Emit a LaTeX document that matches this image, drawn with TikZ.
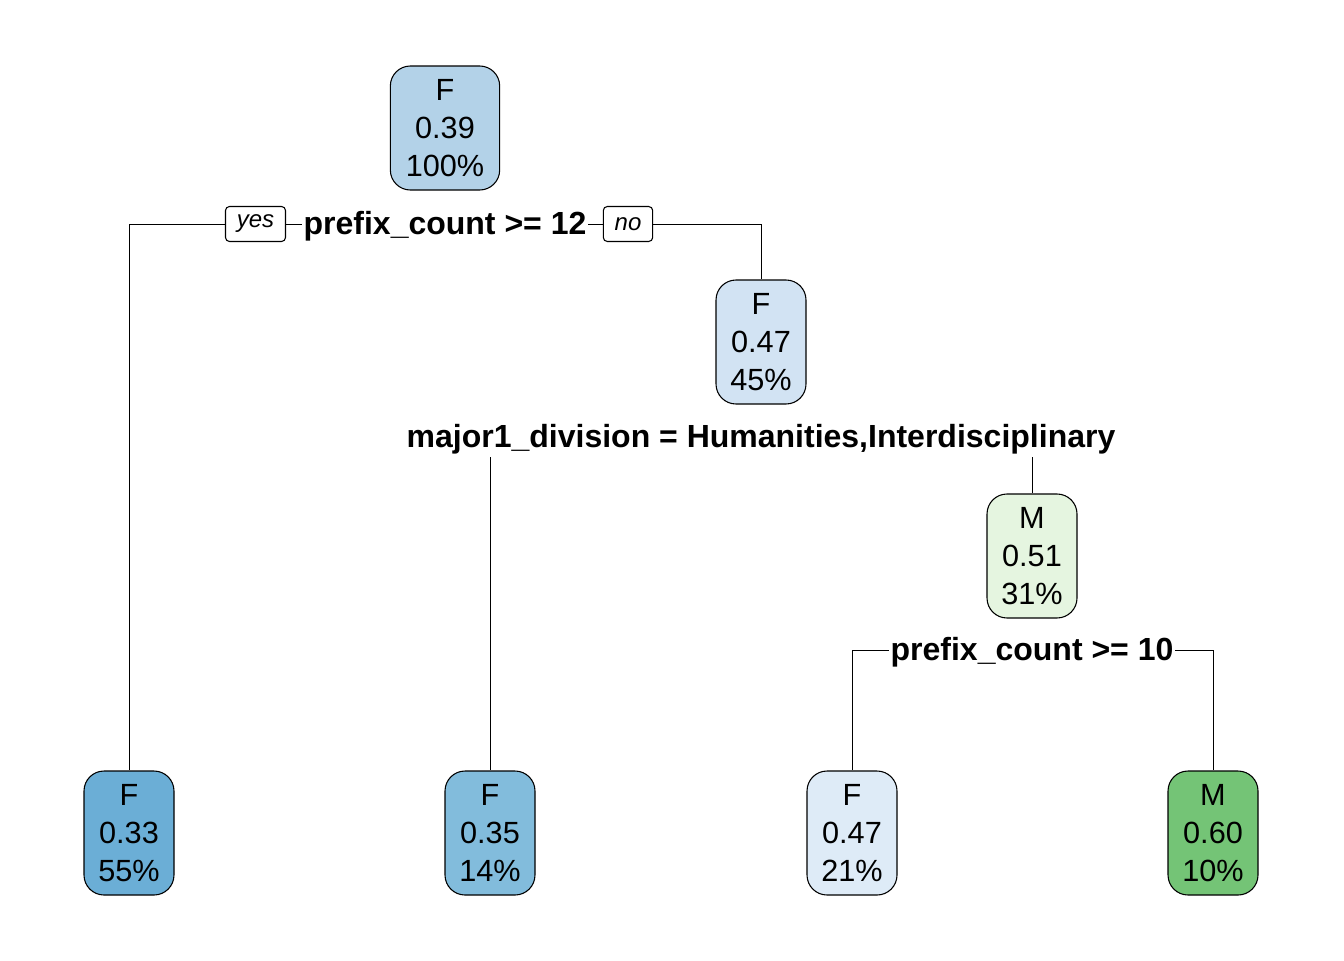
\documentclass[tikz,border=0pt]{standalone}
\usepackage{fontspec}
\setmainfont{Liberation Sans}
\definecolor{cRoot}{RGB}{179,210,232}
\definecolor{cLeafA}{RGB}{107,174,214}
\definecolor{cLeafB}{RGB}{130,188,220}
\definecolor{cNodeB}{RGB}{210,227,243}
\definecolor{cLeafC}{RGB}{222,235,247}
\definecolor{cNodeC}{RGB}{229,245,224}
\definecolor{cLeafD}{RGB}{116,196,118}
\tikzset{
  treenode/.style={draw, line width=0.8pt, rounded corners=15pt, align=center,
    minimum width=67.5pt, minimum height=93pt, inner sep=0pt,
    font=\fontsize{23}{28.5}\selectfont},
  splitlabel/.style={inner xsep=1pt, inner ysep=2pt, font=\fontsize{24}{28}\selectfont\bfseries},
  yesno/.style={draw, line width=0.8pt, rounded corners=3pt, inner xsep=8.5pt, minimum height=26.25pt,
    font=\fontsize{18}{20}\selectfont\itshape}
}
\begin{document}
\begin{tikzpicture}[x=0.75pt,y=-0.75pt,line width=0.75pt]
  \useasboundingbox (0,0) rectangle (1344,960);
  % Nodos del arbol
  \node[treenode, fill=cRoot, minimum width=82pt] (root) at (445,128) {F\\0.39\\100\%};
  \node[treenode, fill=cNodeB] (n2) at (761,342) {F\\0.47\\45\%};
  \node[treenode, fill=cNodeC] (n3) at (1032,556) {M\\0.51\\31\%};
  % Hojas
  \node[treenode, fill=cLeafA] (l1) at (129,833) {F\\0.33\\55\%};
  \node[treenode, fill=cLeafB] (l2) at (490,833) {F\\0.35\\14\%};
  \node[treenode, fill=cLeafC] (l3) at (852,833) {F\\0.47\\21\%};
  \node[treenode, fill=cLeafD] (l4) at (1213,833) {M\\0.60\\10\%};

  % Primera division
  \node[splitlabel] (s1) at (445,226) {prefix\_count >= 12};
  \node[yesno] (yes) at (255.5,224) {yes};
  \node[yesno] (no) at (628,224) {no};
  \draw (yes.east) -- (yes.east -| s1.west);
  \draw (no.west -| s1.east) -- (no.west);
  \draw (yes.west) -| (l1.north);
  \draw (no.east) -| (n2.north);

  % Segunda division
  \node[splitlabel] (s2) at (761,439) {major1\_division = Humanities,Interdisciplinary};
  \draw (s2.south -| l2.north) -- (l2.north);
  \draw (s2.south -| n3.north) -- (n3.north);

  % Tercera division
  \node[splitlabel] (s3) at (1032,652) {prefix\_count >= 10};
  \draw (l3.north |- 0,650) coordinate (c3) -- (l3.north);
  \draw (c3) -- (c3 -| s3.west);
  \draw (l4.north |- 0,650) coordinate (c4) -- (l4.north);
  \draw (c4) -- (c4 -| s3.east);
\end{tikzpicture}
\end{document}
